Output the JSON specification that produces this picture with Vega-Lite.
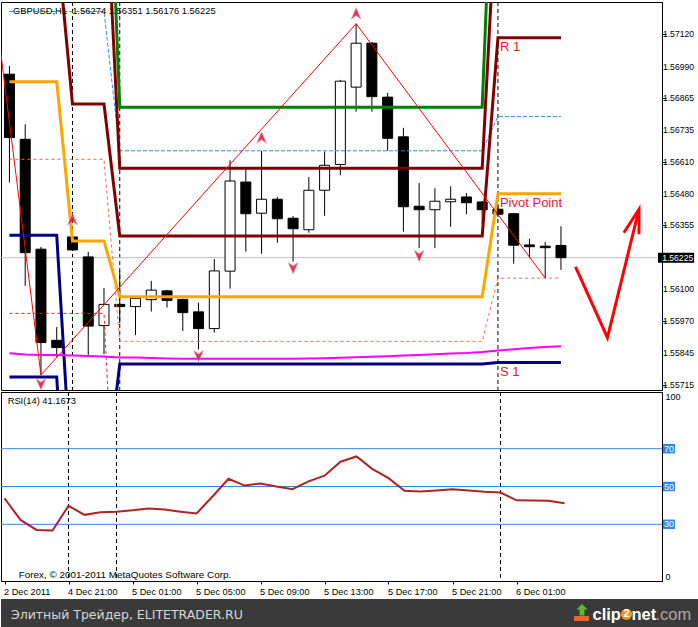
{
"$schema": "https://vega.github.io/schema/vega-lite/v6.json",
"padding": {"left": 0, "top": 1, "right": 0, "bottom": 0},
"spacing": 2,
"bounds": "flush",
"config": {
  "view": {"stroke": "#000000", "strokeWidth": 1},
  "font": "Liberation Sans",
  "axis": {"grid": false, "labelFont": "Liberation Sans", "labelColor": "#000000", "tickColor": "#000000", "domainColor": "#000000", "labelOverlap": false, "labelBound": false}
},
"datasets": {
  "sep": [{"i": 4}, {"i": 7}, {"i": 31}],
  "priceTicks": [{"p": 1.5712}, {"p": 1.5699}, {"p": 1.56865}, {"p": 1.56735}, {"p": 1.5661}, {"p": 1.5648}, {"p": 1.56355}, {"p": 1.561}, {"p": 1.5597}, {"p": 1.55845}, {"p": 1.55715}],
  "candles": [
    {"i":0,"o":1.5696,"h":1.56993,"l":1.56526,"c":1.56706},
    {"i":1,"o":1.56699,"h":1.56759,"l":1.56112,"c":1.56245},
    {"i":2,"o":1.56259,"h":1.56268,"l":1.55755,"c":1.55885},
    {"i":3,"o":1.55894,"h":1.55947,"l":1.55827,"c":1.55865},
    {"i":4,"o":1.56308,"h":1.56312,"l":1.56252,"c":1.56256},
    {"i":5,"o":1.56228,"h":1.56248,"l":1.55831,"c":1.55951},
    {"i":6,"o":1.55953,"h":1.56104,"l":1.55838,"c":1.56038},
    {"i":7,"o":1.56038,"h":1.56172,"l":1.55963,"c":1.56029},
    {"i":8,"o":1.56029,"h":1.56068,"l":1.55915,"c":1.56062},
    {"i":9,"o":1.56057,"h":1.56132,"l":1.56009,"c":1.56095},
    {"i":10,"o":1.56092,"h":1.56096,"l":1.56025,"c":1.56054},
    {"i":11,"o":1.56058,"h":1.5606,"l":1.55931,"c":1.56005},
    {"i":12,"o":1.56008,"h":1.56045,"l":1.55858,"c":1.55941},
    {"i":13,"o":1.55941,"h":1.56219,"l":1.55925,"c":1.56172},
    {"i":14,"o":1.56171,"h":1.56615,"l":1.56101,"c":1.56532},
    {"i":15,"o":1.56528,"h":1.56579,"l":1.56249,"c":1.56401},
    {"i":16,"o":1.56403,"h":1.56653,"l":1.56241,"c":1.56459},
    {"i":17,"o":1.56459,"h":1.56468,"l":1.56285,"c":1.56381},
    {"i":18,"o":1.56383,"h":1.56392,"l":1.56209,"c":1.56341},
    {"i":19,"o":1.56337,"h":1.56548,"l":1.56325,"c":1.56495},
    {"i":20,"o":1.56495,"h":1.5665,"l":1.56393,"c":1.56595},
    {"i":21,"o":1.56598,"h":1.56937,"l":1.56555,"c":1.56932},
    {"i":22,"o":1.56908,"h":1.57162,"l":1.5681,"c":1.57084},
    {"i":23,"o":1.57084,"h":1.57089,"l":1.5681,"c":1.5687},
    {"i":24,"o":1.56868,"h":1.56885,"l":1.56653,"c":1.56703},
    {"i":25,"o":1.56709,"h":1.56745,"l":1.56329,"c":1.56429},
    {"i":26,"o":1.56431,"h":1.56524,"l":1.56263,"c":1.56417},
    {"i":27,"o":1.56417,"h":1.56503,"l":1.56263,"c":1.56451},
    {"i":28,"o":1.56449,"h":1.56511,"l":1.56349,"c":1.56459},
    {"i":29,"o":1.56468,"h":1.56484,"l":1.56399,"c":1.56445},
    {"i":30,"o":1.56448,"h":1.56452,"l":1.5636,"c":1.56417},
    {"i":31,"o":1.56419,"h":1.5644,"l":1.56388,"c":1.56399},
    {"i":32,"o":1.56401,"h":1.56401,"l":1.56201,"c":1.56275},
    {"i":33,"o":1.56276,"h":1.56301,"l":1.56223,"c":1.56269},
    {"i":34,"o":1.56271,"h":1.56289,"l":1.56143,"c":1.56265},
    {"i":35,"o":1.56274,"h":1.56351,"l":1.56176,"c":1.56225}
  ],
  "piv": [
    {"s":"P","i":0,"p":1.5693},{"s":"P","i":3,"p":1.5693},{"s":"P","i":4,"p":1.56292},{"s":"P","i":6,"p":1.56292},{"s":"P","i":7,"p":1.56068},{"s":"P","i":30,"p":1.56068},{"s":"P","i":31,"p":1.56481},{"s":"P","i":35,"p":1.56481},
    {"s":"R1","i":0,"p":1.5751},{"s":"R1","i":3,"p":1.5751},{"s":"R1","i":4,"p":1.5684},{"s":"R1","i":6,"p":1.5684},{"s":"R1","i":7,"p":1.56312},{"s":"R1","i":30,"p":1.56312},{"s":"R1","i":31,"p":1.57106},{"s":"R1","i":35,"p":1.57106},
    {"s":"R2","i":0,"p":1.58125},{"s":"R2","i":3,"p":1.58125},{"s":"R2","i":4,"p":1.57866},{"s":"R2","i":6,"p":1.57866},{"s":"R2","i":7,"p":1.56583},{"s":"R2","i":30,"p":1.56583},{"s":"R2","i":31,"p":1.57785},{"s":"R2","i":35,"p":1.57785},
    {"s":"R3","i":0,"p":1.58705},{"s":"R3","i":3,"p":1.58705},{"s":"R3","i":4,"p":1.58414},{"s":"R3","i":6,"p":1.58414},{"s":"R3","i":7,"p":1.56827},{"s":"R3","i":30,"p":1.56827},{"s":"R3","i":31,"p":1.5841},{"s":"R3","i":35,"p":1.5841},
    {"s":"S1","i":0,"p":1.56315},{"s":"S1","i":3,"p":1.56315},{"s":"S1","i":4,"p":1.55266},{"s":"S1","i":6,"p":1.55266},{"s":"S1","i":7,"p":1.55799},{"s":"S1","i":30,"p":1.55799},{"s":"S1","i":31,"p":1.55805},{"s":"S1","i":35,"p":1.55805},
    {"s":"S2","i":0,"p":1.55747},{"s":"S2","i":3,"p":1.55747},{"s":"S2","i":4,"p":1.54718},{"s":"S2","i":6,"p":1.54718},{"s":"S2","i":7,"p":1.55553},{"s":"S2","i":30,"p":1.55553},{"s":"S2","i":31,"p":1.55177},{"s":"S2","i":35,"p":1.55177}
  ],
  "bd": [{"i":0,"p":1.57211},{"i":6,"p":1.57211},{"i":7,"p":1.56653},{"i":30,"p":1.56653},{"i":31,"p":1.5679},{"i":35,"p":1.5679}],
  "td": [{"i":0,"p":1.56619},{"i":6,"p":1.56619},{"i":7,"p":1.5589},{"i":30,"p":1.5589},{"i":31,"p":1.56143},{"i":35,"p":1.56143}],
  "rd": [{"i":0,"p":1.56002},{"i":6,"p":1.56002},{"i":7,"p":1.5475}],
  "ma": [
    {"i":0,"p":1.55842},{"i":1,"p":1.55837},{"i":2,"p":1.55835},{"i":3,"p":1.55835},{"i":4,"p":1.55833},{"i":5,"p":1.55831},{"i":6,"p":1.55829},{"i":7,"p":1.55825},{"i":8,"p":1.55825},{"i":9,"p":1.55823},{"i":10,"p":1.55821},{"i":11,"p":1.5582},{"i":12,"p":1.5582},{"i":13,"p":1.5582},{"i":14,"p":1.5582},{"i":15,"p":1.5582},{"i":16,"p":1.5582},{"i":17,"p":1.5582},{"i":18,"p":1.5582},{"i":19,"p":1.55821},{"i":20,"p":1.55822},{"i":21,"p":1.55824},{"i":22,"p":1.55826},{"i":23,"p":1.55828},{"i":24,"p":1.5583},{"i":25,"p":1.55833},{"i":26,"p":1.55835},{"i":27,"p":1.55838},{"i":28,"p":1.55841},{"i":29,"p":1.55843},{"i":30,"p":1.55847},{"i":31,"p":1.55853},{"i":32,"p":1.55858},{"i":33,"p":1.55863},{"i":34,"p":1.55867},{"i":35,"p":1.5587}
  ],
  "zz": [{"i":-1,"p":1.57273},{"i":2,"p":1.55755},{"i":22,"p":1.57162},{"i":34,"p":1.56143}],
  "frUp": [{"i":4,"p":1.56379},{"i":16,"p":1.56706},{"i":22,"p":1.57203}],
  "frDn": [{"i":2,"p":1.55718},{"i":12,"p":1.55831},{"i":18,"p":1.56183},{"i":26,"p":1.56232}],
  "arrow": [
    {"g":1,"k":1,"i":35.925,"p":1.56188},{"g":1,"k":2,"i":37.95,"p":1.55905},{"g":1,"k":3,"i":39.95,"p":1.56419},
    {"g":2,"k":1,"i":38.99,"p":1.56325},{"g":2,"k":2,"i":39.95,"p":1.56419},{"g":2,"k":3,"i":39.95,"p":1.56319}
  ],
  "rsi": [
    {"i":0,"r":43.8},{"i":1,"r":32.3},{"i":2,"r":27.0},{"i":3,"r":26.7},{"i":4,"r":39.8},{"i":5,"r":35.0},{"i":6,"r":36.4},{"i":7,"r":36.7},{"i":8,"r":37.4},{"i":9,"r":38.3},{"i":10,"r":37.8},{"i":11,"r":36.7},{"i":12,"r":35.7},{"i":13,"r":44.7},{"i":14,"r":54.1},{"i":15,"r":50.5},{"i":16,"r":51.6},{"i":17,"r":50.0},{"i":18,"r":48.6},{"i":19,"r":52.7},{"i":20,"r":55.7},{"i":21,"r":63.1},{"i":22,"r":65.9},{"i":23,"r":59.2},{"i":24,"r":54.4},{"i":25,"r":47.7},{"i":26,"r":47.3},{"i":27,"r":47.9},{"i":28,"r":48.6},{"i":29,"r":47.9},{"i":30,"r":47.2},{"i":31,"r":46.8},{"i":32,"r":42.7},{"i":33,"r":42.6},{"i":34,"r":42.4},{"i":35,"r":41.17}
  ]
},
"vconcat": [
{
  "width": 661, "height": 388,
  "layer": [
    {"data": {"name": "sep"}, "mark": {"type": "rule", "color": "#000000", "strokeWidth": 1, "strokeDash": [4, 3]},
     "encoding": {"x": {"field": "i", "type": "quantitative", "scale": {"domain": [-0.21875, 41.09375], "nice": false, "zero": false}, "axis": null}}},
    {"data": {"values": [{"p": 1.56225}]}, "mark": {"type": "rule", "color": "#c0c0c0", "strokeWidth": 1},
     "encoding": {"y": {"field": "p", "type": "quantitative", "scale": {"domain": [1.55695, 1.57249], "nice": false, "zero": false}}}},
    {"data": {"name": "candles"}, "mark": {"type": "rule", "color": "#000000", "strokeWidth": 1, "clip": true},
     "encoding": {"x": {"field": "i", "type": "quantitative", "scale": {"domain": [-0.21875, 41.09375], "nice": false, "zero": false}, "axis": null},
                  "y": {"field": "l", "type": "quantitative", "scale": {"domain": [1.55695, 1.57249], "nice": false, "zero": false}},
                  "y2": {"field": "h"}}},
    {"data": {"name": "candles"}, "mark": {"type": "bar", "size": 10, "stroke": "#000000", "strokeWidth": 1, "clip": true},
     "encoding": {"x": {"field": "i", "type": "quantitative", "scale": {"domain": [-0.21875, 41.09375], "nice": false, "zero": false}, "axis": null},
                  "y": {"field": "o", "type": "quantitative", "scale": {"domain": [1.55695, 1.57249], "nice": false, "zero": false},
                        "axis": {"orient": "right", "title": null, "values": [1.5712, 1.5699, 1.56865, 1.56735, 1.5661, 1.5648, 1.56355, 1.561, 1.5597, 1.55845, 1.55715], "labels": false, "tickSize": 4, "grid": false, "domain": true, "ticks": true}},
                  "y2": {"field": "c"},
                  "fill": {"condition": {"test": "datum.c > datum.o", "value": "#ffffff"}, "value": "#000000"}}},
    {"data": {"name": "bd"}, "mark": {"type": "line", "color": "#1e90ff", "strokeWidth": 1, "strokeDash": [4, 2], "clip": true},
     "encoding": {"x": {"field": "i", "type": "quantitative", "scale": {"domain": [-0.21875, 41.09375], "nice": false, "zero": false}, "axis": null},
                  "y": {"field": "p", "type": "quantitative", "scale": {"domain": [1.55695, 1.57249], "nice": false, "zero": false}}}},
    {"data": {"name": "td"}, "mark": {"type": "line", "color": "#ff6347", "strokeWidth": 1, "strokeDash": [3, 3], "clip": true},
     "encoding": {"x": {"field": "i", "type": "quantitative", "scale": {"domain": [-0.21875, 41.09375], "nice": false, "zero": false}, "axis": null},
                  "y": {"field": "p", "type": "quantitative", "scale": {"domain": [1.55695, 1.57249], "nice": false, "zero": false}}}},
    {"data": {"name": "rd"}, "mark": {"type": "line", "color": "#ff1a1a", "strokeWidth": 1, "strokeDash": [3, 3], "clip": true},
     "encoding": {"x": {"field": "i", "type": "quantitative", "scale": {"domain": [-0.21875, 41.09375], "nice": false, "zero": false}, "axis": null},
                  "y": {"field": "p", "type": "quantitative", "scale": {"domain": [1.55695, 1.57249], "nice": false, "zero": false}}}},
    {"data": {"name": "piv"}, "mark": {"type": "line", "strokeWidth": 3, "clip": true},
     "encoding": {"x": {"field": "i", "type": "quantitative", "scale": {"domain": [-0.21875, 41.09375], "nice": false, "zero": false}, "axis": null},
                  "y": {"field": "p", "type": "quantitative", "scale": {"domain": [1.55695, 1.57249], "nice": false, "zero": false}},
                  "color": {"field": "s", "type": "nominal", "scale": {"domain": ["R3", "R2", "R1", "P", "S1", "S2"], "range": ["#008000", "#800000", "#800000", "#ffa500", "#000080", "#000080"]}, "legend": null}}},
    {"data": {"name": "ma"}, "mark": {"type": "line", "color": "#ff00ff", "strokeWidth": 2, "clip": true},
     "encoding": {"x": {"field": "i", "type": "quantitative", "scale": {"domain": [-0.21875, 41.09375], "nice": false, "zero": false}, "axis": null},
                  "y": {"field": "p", "type": "quantitative", "scale": {"domain": [1.55695, 1.57249], "nice": false, "zero": false}}}},
    {"data": {"name": "zz"}, "mark": {"type": "line", "color": "#ff0000", "strokeWidth": 1, "clip": true},
     "encoding": {"x": {"field": "i", "type": "quantitative", "scale": {"domain": [-0.21875, 41.09375], "nice": false, "zero": false}, "axis": null},
                  "y": {"field": "p", "type": "quantitative", "scale": {"domain": [1.55695, 1.57249], "nice": false, "zero": false}}}},
    {"data": {"name": "frUp"}, "mark": {"type": "point", "shape": "M0,-1L0.85,1L0,0.35L-0.85,1Z", "size": 140, "filled": true, "color": "#dc143c", "opacity": 0.85, "stroke": "#ff9fb4", "strokeWidth": 0.6, "clip": true},
     "encoding": {"x": {"field": "i", "type": "quantitative", "scale": {"domain": [-0.21875, 41.09375], "nice": false, "zero": false}, "axis": null},
                  "y": {"field": "p", "type": "quantitative", "scale": {"domain": [1.55695, 1.57249], "nice": false, "zero": false}}}},
    {"data": {"name": "frDn"}, "mark": {"type": "point", "shape": "M0,1L0.85,-1L0,-0.35L-0.85,-1Z", "size": 140, "filled": true, "color": "#dc143c", "opacity": 0.85, "stroke": "#ff9fb4", "strokeWidth": 0.6, "clip": true},
     "encoding": {"x": {"field": "i", "type": "quantitative", "scale": {"domain": [-0.21875, 41.09375], "nice": false, "zero": false}, "axis": null},
                  "y": {"field": "p", "type": "quantitative", "scale": {"domain": [1.55695, 1.57249], "nice": false, "zero": false}}}},
    {"data": {"values": [{"t": "R 1", "i": 31, "p": 1.57106}, {"t": "Pivot Point", "i": 31, "p": 1.56481}, {"t": "S 1", "i": 31, "p": 1.55805}]},
     "mark": {"type": "text", "align": "left", "baseline": "top", "dx": 2, "dy": 3, "fontSize": 13, "color": "#f0143c"},
     "encoding": {"x": {"field": "i", "type": "quantitative", "scale": {"domain": [-0.21875, 41.09375], "nice": false, "zero": false}, "axis": null},
                  "y": {"field": "p", "type": "quantitative", "scale": {"domain": [1.55695, 1.57249], "nice": false, "zero": false}},
                  "text": {"field": "t"}}},
    {"data": {"name": "arrow"}, "mark": {"type": "line", "color": "#ff0000", "strokeWidth": 3, "clip": true},
     "encoding": {"x": {"field": "i", "type": "quantitative", "scale": {"domain": [-0.21875, 41.09375], "nice": false, "zero": false}, "axis": null},
                  "y": {"field": "p", "type": "quantitative", "scale": {"domain": [1.55695, 1.57249], "nice": false, "zero": false}},
                  "detail": {"field": "g"}, "order": {"field": "k"}}},
    {"data": {"values": [{"t": "GBPUSD,H1\u00a0 1.56274 1.56351 1.56176 1.56225", "i": 0.22, "p": 1.572}]},
     "mark": {"type": "text", "align": "left", "baseline": "alphabetic", "fontSize": 9.4, "color": "#000000"},
     "encoding": {"x": {"field": "i", "type": "quantitative", "scale": {"domain": [-0.21875, 41.09375], "nice": false, "zero": false}, "axis": null},
                  "y": {"field": "p", "type": "quantitative", "scale": {"domain": [1.55695, 1.57249], "nice": false, "zero": false}},
                  "text": {"field": "t"}}},
    {"data": {"name": "priceTicks"}, "mark": {"type": "text", "align": "left", "baseline": "middle", "fontSize": 8.6, "color": "#000000", "clip": false},
     "encoding": {"x": {"datum": 41.47, "type": "quantitative", "scale": {"domain": [-0.21875, 41.09375], "nice": false, "zero": false}, "axis": null},
                  "y": {"field": "p", "type": "quantitative", "scale": {"domain": [1.55695, 1.57249], "nice": false, "zero": false}},
                  "text": {"field": "p", "type": "quantitative", "format": ".5f"}}},
    {"data": {"values": [{"p": 1.56225}]}, "mark": {"type": "rect", "color": "#000000", "clip": false, "yOffset": -5, "y2Offset": 5},
     "encoding": {"x": {"datum": 41.156, "type": "quantitative", "scale": {"domain": [-0.21875, 41.09375], "nice": false, "zero": false}, "axis": null},
                  "x2": {"datum": 43.45},
                  "y": {"field": "p", "type": "quantitative", "scale": {"domain": [1.55695, 1.57249], "nice": false, "zero": false}},
                  "y2": {"field": "p"}}},
    {"data": {"values": [{"p": 1.56225}]}, "mark": {"type": "text", "align": "left", "baseline": "middle", "fontSize": 8.6, "color": "#ffffff", "clip": false},
     "encoding": {"x": {"datum": 41.42, "type": "quantitative", "scale": {"domain": [-0.21875, 41.09375], "nice": false, "zero": false}, "axis": null},
                  "y": {"field": "p", "type": "quantitative", "scale": {"domain": [1.55695, 1.57249], "nice": false, "zero": false}},
                  "text": {"field": "p", "type": "quantitative", "format": ".5f"}}}
  ]
},
{
  "width": 661, "height": 189,
  "layer": [
    {"data": {"name": "sep"}, "mark": {"type": "rule", "color": "#000000", "strokeWidth": 1, "strokeDash": [4, 3]},
     "encoding": {"x": {"field": "i", "type": "quantitative", "scale": {"domain": [-0.21875, 41.09375], "nice": false, "zero": false}}}},
    {"data": {"values": [{"v": 70}, {"v": 50}, {"v": 30}]}, "mark": {"type": "rule", "color": "#2b8be8", "strokeWidth": 1},
     "encoding": {"y": {"field": "v", "type": "quantitative", "scale": {"domain": [0, 100], "nice": false, "zero": false}}}},
    {"data": {"name": "rsi"}, "mark": {"type": "line", "color": "#b22222", "strokeWidth": 2, "clip": true},
     "encoding": {"x": {"field": "i", "type": "quantitative", "scale": {"domain": [-0.21875, 41.09375], "nice": false, "zero": false},
                        "axis": {"orient": "bottom", "title": null, "values": [0, 4, 8, 12, 16, 20, 24, 28, 32], "labelExpr": "['2 Dec 2011','4 Dec 21:00','5 Dec 01:00','5 Dec 05:00','5 Dec 09:00','5 Dec 13:00','5 Dec 17:00','5 Dec 21:00','6 Dec 01:00'][round(datum.value/4)]", "labelAlign": "left", "labelBaseline": "top", "labelFontSize": 9.2, "tickSize": 3, "labelPadding": 3, "domain": false, "labelOffset": -1, "labelFlush": false, "labelOverlap": false, "labelBound": false, "grid": false, "ticks": true}},
                  "y": {"field": "r", "type": "quantitative", "scale": {"domain": [0, 100], "nice": false, "zero": false},
                        "axis": {"orient": "right", "title": null, "values": [0, 100], "labelFlush": true, "ticks": false, "labelPadding": 3, "labelFontSize": 9, "domain": true, "grid": false}}}},
    {"data": {"values": [{"t": "RSI(14) 41.1673", "i": 0.2, "v": 93.4}]}, "mark": {"type": "text", "align": "left", "baseline": "alphabetic", "fontSize": 9.3, "color": "#000000"},
     "encoding": {"x": {"field": "i", "type": "quantitative", "scale": {"domain": [-0.21875, 41.09375], "nice": false, "zero": false}},
                  "y": {"field": "v", "type": "quantitative", "scale": {"domain": [0, 100], "nice": false, "zero": false}},
                  "text": {"field": "t"}}},
    {"data": {"values": [{"t": "Forex, © 2001-2011 MetaQuotes Software Corp.", "i": 0.894, "v": 1.6}]}, "mark": {"type": "text", "align": "left", "baseline": "alphabetic", "fontSize": 9.9, "color": "#000000"},
     "encoding": {"x": {"field": "i", "type": "quantitative", "scale": {"domain": [-0.21875, 41.09375], "nice": false, "zero": false}},
                  "y": {"field": "v", "type": "quantitative", "scale": {"domain": [0, 100], "nice": false, "zero": false}},
                  "text": {"field": "t"}}},
    {"data": {"values": [{"v": 70}, {"v": 50}, {"v": 30}]}, "mark": {"type": "rect", "color": "#2b8be8", "clip": false, "yOffset": -4.75, "y2Offset": 4.75},
     "encoding": {"x": {"datum": 41.156, "type": "quantitative", "scale": {"domain": [-0.21875, 41.09375], "nice": false, "zero": false}},
                  "x2": {"datum": 41.906},
                  "y": {"field": "v", "type": "quantitative", "scale": {"domain": [0, 100], "nice": false, "zero": false}},
                  "y2": {"field": "v"}}},
    {"data": {"values": [{"v": 70}, {"v": 50}, {"v": 30}]}, "mark": {"type": "text", "align": "center", "baseline": "middle", "fontSize": 9, "color": "#ffffff", "clip": false},
     "encoding": {"x": {"datum": 41.53, "type": "quantitative", "scale": {"domain": [-0.21875, 41.09375], "nice": false, "zero": false}},
                  "y": {"field": "v", "type": "quantitative", "scale": {"domain": [0, 100], "nice": false, "zero": false}},
                  "text": {"field": "v", "type": "quantitative"}}}
  ]
},
{
  "width": 698, "height": 45,
  "view": {"stroke": null},
  "layer": [
    {"data": {"values": [{}]}, "mark": {"type": "rect", "color": "#3a3a3a"},
     "encoding": {"x": {"datum": 0, "type": "quantitative", "scale": {"domain": [0, 698], "nice": false, "zero": false}, "axis": null},
                  "x2": {"datum": 698},
                  "y": {"datum": 0, "type": "quantitative", "scale": {"domain": [0, 45], "nice": false, "zero": false}, "axis": null},
                  "y2": {"datum": 29}}},
    {"data": {"values": [{"t": "Элитный Трейдер, ELITETRADER.RU", "x": 10, "y": 9}]}, "mark": {"type": "text", "align": "left", "baseline": "alphabetic", "fontSize": 12.5, "font": "DejaVu Sans", "color": "#d6d6d6"},
     "encoding": {"x": {"field": "x", "type": "quantitative", "scale": {"domain": [0, 698], "nice": false, "zero": false}, "axis": null},
                  "y": {"field": "y", "type": "quantitative", "scale": {"domain": [0, 45], "nice": false, "zero": false}, "axis": null},
                  "text": {"field": "t"}}},
    {"data": {"values": [{}]}, "mark": {"type": "rect", "color": "#e8662a"},
     "encoding": {"x": {"datum": 573, "type": "quantitative", "scale": {"domain": [0, 698], "nice": false, "zero": false}, "axis": null},
                  "x2": {"datum": 588},
                  "y": {"datum": 7, "type": "quantitative", "scale": {"domain": [0, 45], "nice": false, "zero": false}, "axis": null},
                  "y2": {"datum": 12}}},
    {"data": {"values": [{}]}, "mark": {"type": "point", "shape": "M0,-1L0.9,-0.1L0.4,-0.1L0.4,0.9L-0.4,0.9L-0.4,-0.1L-0.9,-0.1Z", "size": 150, "filled": true, "color": "#5cb82e", "opacity": 1},
     "encoding": {"x": {"datum": 581, "type": "quantitative", "scale": {"domain": [0, 698], "nice": false, "zero": false}, "axis": null},
                  "y": {"datum": 18, "type": "quantitative", "scale": {"domain": [0, 45], "nice": false, "zero": false}, "axis": null}}},
    {"data": {"values": [{"t": "clip", "x": 591.5, "y": 8}, {"t": "net", "x": 630.5, "y": 8}]}, "mark": {"type": "text", "align": "left", "baseline": "alphabetic", "fontSize": 16.5, "fontWeight": "bold", "color": "#ffffff"},
     "encoding": {"x": {"field": "x", "type": "quantitative", "scale": {"domain": [0, 698], "nice": false, "zero": false}, "axis": null},
                  "y": {"field": "y", "type": "quantitative", "scale": {"domain": [0, 45], "nice": false, "zero": false}, "axis": null},
                  "text": {"field": "t"}}},
    {"data": {"values": [{}]}, "mark": {"type": "point", "shape": "circle", "size": 125, "filled": true, "color": "#f7941d", "opacity": 1},
     "encoding": {"x": {"datum": 625.5, "type": "quantitative", "scale": {"domain": [0, 698], "nice": false, "zero": false}, "axis": null},
                  "y": {"datum": 13.7, "type": "quantitative", "scale": {"domain": [0, 45], "nice": false, "zero": false}, "axis": null}}},
    {"data": {"values": [{"t": "2", "x": 625.5, "y": 13.7}]}, "mark": {"type": "text", "align": "center", "baseline": "middle", "fontSize": 11, "fontWeight": "bold", "color": "#ffffff"},
     "encoding": {"x": {"field": "x", "type": "quantitative", "scale": {"domain": [0, 698], "nice": false, "zero": false}, "axis": null},
                  "y": {"field": "y", "type": "quantitative", "scale": {"domain": [0, 45], "nice": false, "zero": false}, "axis": null},
                  "text": {"field": "t"}}},
    {"data": {"values": [{"t": ".com", "x": 654.5, "y": 8}]}, "mark": {"type": "text", "align": "left", "baseline": "alphabetic", "fontSize": 16.5, "color": "#a8a8a8"},
     "encoding": {"x": {"field": "x", "type": "quantitative", "scale": {"domain": [0, 698], "nice": false, "zero": false}, "axis": null},
                  "y": {"field": "y", "type": "quantitative", "scale": {"domain": [0, 45], "nice": false, "zero": false}, "axis": null},
                  "text": {"field": "t"}}}
  ]
}
]
}
